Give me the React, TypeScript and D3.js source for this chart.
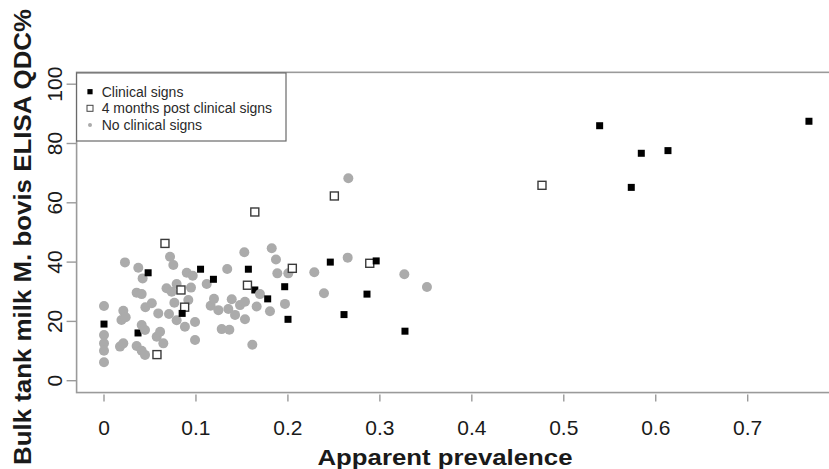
import React from "react";
import * as d3 from "d3";

// ---- data ----
const clinicalX = [0, 0.048, 0.085, 0.105, 0.119, 0.157, 0.178, 0.1965, 0.2001, 0.2461, 0.261, 0.286, 0.296, 0.3273, 0.539, 0.5734, 0.5843, 0.6133, 0.7666];
const clinicalY = [19.1, 36.4, 22.7, 37.6, 34.2, 37.6, 27.6, 31.7, 20.7, 40.0, 22.3, 29.2, 40.4, 16.7, 86.0, 65.2, 76.7, 77.6, 87.5];
// clinical-sign herds mostly hidden behind grey points
const clinicalHiddenX = [0.037, 0.164];
const clinicalHiddenY = [16.1, 30.6];

const postX = [0.0576, 0.0663, 0.0837, 0.0877, 0.156, 0.164, 0.2048, 0.2505, 0.289, 0.4763];
const postY = [8.8, 46.3, 30.6, 24.8, 32.2, 56.9, 37.9, 62.3, 39.6, 65.9];

const noSignsX = [
  0, 0, 0, 0, 0,
  0.0174, 0.019, 0.021, 0.021, 0.0236, 0.0228,
  0.0355, 0.041, 0.0373, 0.042,
  0.0355, 0.041, 0.0446,
  0.041, 0.0446, 0.045, 0.052,
  0.059, 0.0707, 0.0573, 0.061, 0.0645,
  0.0718, 0.0754, 0.068, 0.0736, 0.079,
  0.0765, 0.0917, 0.079, 0.088,
  0.09, 0.0965, 0.0946,
  0.099, 0.099,
  0.1117, 0.116, 0.1196, 0.1244,
  0.128, 0.1363,
  0.134, 0.1389, 0.1352, 0.1425, 0.1479, 0.1533, 0.1533,
  0.1526, 0.1613, 0.166, 0.1696, 0.1805,
  0.1824, 0.187, 0.1885, 0.1968, 0.2004,
  0.2287, 0.2392, 0.265, 0.2657, 0.3266, 0.3512,
];
const noSignsY = [
  25.2, 15.4, 12.6, 10.1, 6.2,
  11.5, 20.5, 12.6, 23.6, 21.4, 39.9,
  29.7, 29.2, 38.1, 34.5,
  11.7, 10.1, 8.7,
  18.8, 17.1, 24.8, 26.1,
  22.7, 22.5, 14.8, 16.5, 12.6,
  41.8, 39, 31.2, 30, 32.6,
  26.3, 27.2, 20.4, 18.2,
  36.4, 35.4, 31.4,
  19.8, 13.7,
  32.6, 25.3, 27.6, 23.8,
  17.4, 17.2,
  37.7, 27.5, 24.2, 22.2, 25.5, 26.6, 20.7,
  43.3, 12.1, 25, 29.2, 23.4,
  44.7, 40.9, 36.2, 25.9, 36.2,
  36.6, 29.5, 41.5, 68.3, 35.9, 31.6,
];

const xTicks = [0, 0.1, 0.2, 0.3, 0.4, 0.5, 0.6, 0.7];
const yTicks = [0, 20, 40, 60, 80, 100];
const legendLabels = ["Clinical signs", "4 months post clinical signs", "No clinical signs"];
const xTitle = "Apparent prevalence";
const yTitle = "Bulk tank milk M. bovis ELISA QDC%";

const W = 829;
const H = 469;
const FONT = "'Liberation Sans', Arial, Helvetica, sans-serif";

export default function App() {
  const x = d3.scaleLinear().domain([0, 0.7]).range([104, 747.7]);
  const y = d3.scaleLinear().domain([0, 100]).range([380.7, 84.2]);

  const left = x(-0.0298);
  const right = x(0.8);
  const top = y(104);
  const bottom = y(-4);

  const grey = "#ababab";
  const axisCol = "#9a9a9a";
  const txt = "#1a1a1a";

  const sqB = 7;
  const sqO = 8;
  const r = 5;

  const pts = (xs: number[], ys: number[]) => xs.map((v, i) => [v, ys[i]] as [number, number]);

  const legTop = top + 0.6;
  const legRows = [91.7, 108.3, 125];

  return (
    <svg width={W} height={H} style={{ position: "absolute", left: 0, top: 0, background: "#fff" }} fontFamily={FONT}>
      <rect x={0} y={0} width={W} height={H} fill="#fff" />

      {/* plot box */}
      <rect x={left} y={top} width={right - left} height={bottom - top} fill="none" stroke={axisCol} strokeWidth={1.6} />

      {/* x ticks */}
      {xTicks.map((t) => (
        <g key={"xt" + t}>
          <line x1={x(t)} x2={x(t)} y1={bottom + 2} y2={bottom + 9} stroke={axisCol} strokeWidth={1.4} />
          <text x={x(t)} y={435} textAnchor="middle" fontSize={21} fill={txt}>
            {String(t)}
          </text>
        </g>
      ))}

      {/* y ticks */}
      {yTicks.map((t) => (
        <g key={"yt" + t}>
          <line x1={left - 10} x2={left} y1={y(t)} y2={y(t)} stroke={axisCol} strokeWidth={1.4} />
          <text
            transform={`translate(61.5,${y(t)}) rotate(-90)`}
            textAnchor="middle"
            fontSize={21}
            fill={txt}
          >
            {String(t)}
          </text>
        </g>
      ))}

      {/* titles */}
      <text x={445} y={465} textAnchor="middle" fontSize={22} fontWeight="bold" fill={txt} textLength={255} lengthAdjust="spacingAndGlyphs">
        {xTitle}
      </text>
      <text
        transform={`translate(31,237) rotate(-90)`}
        textAnchor="middle"
        fontSize={23}
        fontWeight="bold"
        fill={txt}
        textLength={456}
        lengthAdjust="spacingAndGlyphs"
      >
        {yTitle}
      </text>

      {/* hidden clinical points (behind grey) */}
      {pts(clinicalHiddenX, clinicalHiddenY).map(([a, b], i) => (
        <rect key={"ch" + i} x={x(a) - sqB / 2} y={y(b) - sqB / 2} width={sqB} height={sqB} fill="#000" />
      ))}

      {/* no clinical signs */}
      {pts(noSignsX, noSignsY).map(([a, b], i) => (
        <circle key={"g" + i} cx={x(a)} cy={y(b)} r={r} fill={grey} />
      ))}

      {/* 4 months post */}
      {pts(postX, postY).map(([a, b], i) => (
        <rect
          key={"p" + i}
          x={x(a) - sqO / 2}
          y={y(b) - sqO / 2}
          width={sqO}
          height={sqO}
          fill="#fff"
          stroke="#3a3a3a"
          strokeWidth={1.4}
        />
      ))}

      {/* clinical signs */}
      {pts(clinicalX, clinicalY).map(([a, b], i) => (
        <rect key={"c" + i} x={x(a) - sqB / 2} y={y(b) - sqB / 2} width={sqB} height={sqB} fill="#000" />
      ))}

      {/* legend */}
      <rect x={left} y={legTop} width={286 - left} height={141 - legTop} fill="#fff" stroke="#6a6a6a" strokeWidth={1.2} />
      <rect x={90 - 2.6} y={legRows[0] - 2.6} width={5.2} height={5.2} fill="#000" />
      <rect x={90 - 3} y={legRows[1] - 3} width={6} height={6} fill="#fff" stroke="#444" strokeWidth={1} />
      <circle cx={90} cy={legRows[2]} r={2} fill={grey} />
      {legendLabels.map((l, i) => (
        <text key={l} x={101.7} y={legRows[i] + 5} fontSize={14} fill="#2a2a2a">
          {l}
        </text>
      ))}
    </svg>
  );
}
